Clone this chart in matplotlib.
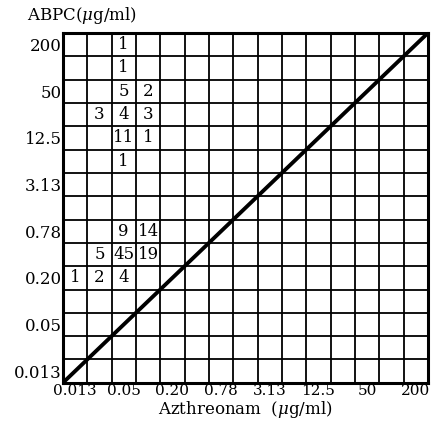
import numpy as np
import matplotlib
matplotlib.use("Agg")
import matplotlib.pyplot as plt

plt.rcParams['font.family'] = ['DejaVu Serif']
plt.rcParams['mathtext.fontset'] = 'dejavuserif'

# twofold dilution steps (ug/ml), shared by both axes
dilutions = ['0.013', '0.025', '0.05', '0.10', '0.20', '0.39', '0.78', '1.56',
             '3.13', '6.25', '12.5', '25', '50', '100', '200']

# strain counts: (azthreonam MIC, ABPC MIC, number of strains)
azt_mic = ['0.05', '0.05', '0.05', '0.10', '0.025', '0.05', '0.10', '0.05', '0.10',
           '0.05', '0.05', '0.10', '0.025', '0.05', '0.10', '0.013', '0.025', '0.05']
abpc_mic = ['200', '100', '50', '50', '25', '25', '25', '12.5', '12.5',
            '6.25', '0.78', '0.78', '0.39', '0.39', '0.39', '0.20', '0.20', '0.20']
counts = [1, 1, 5, 2, 3, 4, 3, 11, 1,
          1, 9, 14, 5, 45, 19, 1, 2, 4]

tick_labels = dilutions[::2]

fig = plt.figure(figsize=(4.43, 4.23), dpi=100)
ax = fig.add_axes([0.142, 0.095, 0.824, 0.827])

n = len(dilutions)
ax.set_xlim(-0.5, n - 0.5)
ax.set_ylim(-0.5, n - 0.5)

# cell grid
ax.set_xticks(np.arange(-0.5, n, 1), minor=True)
ax.set_yticks(np.arange(-0.5, n, 1), minor=True)
ax.grid(which='minor', color='black', linewidth=1.3)
ax.tick_params(which='both', length=0)

ax.set_xticks(np.arange(0, n, 2))
ax.set_xticklabels(tick_labels, fontsize=11)
ax.set_yticks(np.arange(0, n, 2))
ax.set_yticklabels(tick_labels, fontsize=12)
ax.tick_params(axis='x', pad=1)
ax.tick_params(axis='y', pad=1)

for s in ax.spines.values():
    s.set_linewidth(2.2)

# line of equal MIC
ax.plot([-0.5, n - 0.5], [-0.5, n - 0.5], color='black', linewidth=2.8)

for xa, ya, c in zip(azt_mic, abpc_mic, counts):
    ax.text(dilutions.index(xa), dilutions.index(ya), str(c),
            ha='center', va='center', fontsize=12)

fig.text(0.06, 0.963, r'ABPC($\mu$g/ml)', fontsize=12, ha='left', va='center')
fig.text(0.555, 0.033, r'Azthreonam  ($\mu$g/ml)', fontsize=12, ha='center', va='center')

fig.savefig('out.png', dpi=100)
